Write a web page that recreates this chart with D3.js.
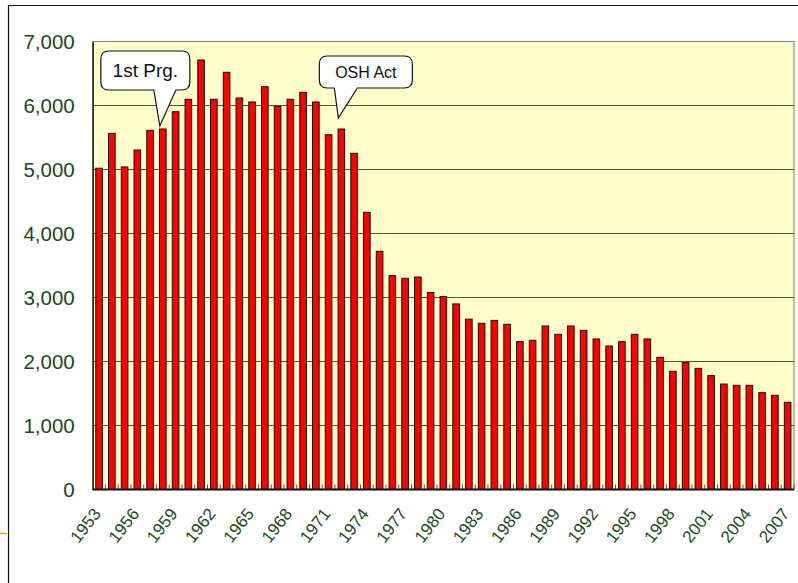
<!DOCTYPE html>
<html>
<head>
<meta charset="utf-8">
<script src="https://cdn.jsdelivr.net/npm/d3@7"></script>
<style>
  body { margin: 0; background: #fff; }
  svg { display: block; font-family: "Liberation Sans", Arial, sans-serif; }
</style>
</head>
<body>
<div id="chart"></div>
<script>
// Fatalities per year, 1953-2007

const years = d3.range(1953, 2008);

const deaths = [
  5020, 5565, 5040, 5305, 5612, 5633, 5903, 6097, 6711, 6097,
  6519, 6117, 6055, 6294, 5988, 6097, 6206, 6055, 5544, 5633,
  5253, 4331, 3722, 3341, 3300, 3320, 3078, 3015, 2900, 2662,
  2597, 2643, 2581, 2310, 2331, 2555, 2425, 2555, 2487, 2352,
  2242, 2310, 2425, 2352, 2065, 1847, 1982, 1893, 1779, 1648,
  1628, 1628, 1513, 1472, 1362
];

const tickYears = [1953, 1956, 1959, 1962, 1965, 1968, 1971, 1974, 1977, 1980,
  1983, 1986, 1989, 1992, 1995, 1998, 2001, 2004, 2007];

const yTicks = [0, 1000, 2000, 3000, 4000, 5000, 6000, 7000];

const notes = [
  { label: "1st Prg.", year: 1958 },
  { label: "OSH Act", year: 1972 }
];

let ChartWidth = 798;
let ChartHeight = 583;

let plotLeft = 92.7, plotRight = 794, plotTop = 41.5, plotBottom = 489.5;

let svg = d3.select("#chart")
    .append("svg")
    .attr("width", ChartWidth)
    .attr("height", ChartHeight)
;

let x = d3.scaleBand()
    .domain(years)
    .range([plotLeft, plotRight])
    .paddingInner(0.48)
    .paddingOuter(0.24)
;

let y = d3.scaleLinear()
    .domain([0, 7000])
    .range([plotBottom, plotTop])
;

// outer frame
svg.append("line")
    .attr("x1", 8).attr("x2", ChartWidth).attr("y1", 5.5).attr("y2", 5.5)
    .attr("stroke", "#111").attr("stroke-width", 1.2);
svg.append("line")
    .attr("x1", 8.5).attr("x2", 8.5).attr("y1", 5).attr("y2", ChartHeight)
    .attr("stroke", "#111").attr("stroke-width", 1.2);
svg.append("line")
    .attr("x1", 0).attr("x2", 7).attr("y1", 533.5).attr("y2", 533.5)
    .attr("stroke", "#d9a521").attr("stroke-width", 1.5);

// plot background
svg.append("rect")
    .attr("x", plotLeft).attr("y", plotTop)
    .attr("width", plotRight - plotLeft).attr("height", plotBottom - plotTop)
    .attr("fill", "#ffffcc")
    .attr("stroke", "#8c8c8c").attr("stroke-width", 1.2);

// gridlines
svg.append("g")
    .selectAll("line")
    .data(yTicks.filter(d => d > 0 && d < 7000))
    .enter()
    .append("line")
    .attr("x1", plotLeft).attr("x2", plotRight)
    .attr("y1", d => y(d)).attr("y2", d => y(d))
    .attr("stroke", "#3f5f27").attr("stroke-width", 1);

// y axis
let yAxis = svg.append("g")
    .attr("transform", `translate(${plotLeft},0)`)
    .call(d3.axisLeft(y).tickValues(yTicks).tickFormat(d3.format(",")).tickSize(0).tickPadding(18));
yAxis.select(".domain").attr("stroke", "#222").attr("stroke-width", 1.5);
yAxis.selectAll("text")
    .attr("fill", "#1b4a1b")
    .attr("font-size", 20.5)
    .attr("font-family", "Liberation Sans, Arial, sans-serif");

// bars
svg.append("g")
    .selectAll("rect")
    .data(deaths)
    .enter()
    .append("rect")
    .attr("x", (d, i) => x(years[i]))
    .attr("y", d => y(d))
    .attr("width", x.bandwidth())
    .attr("height", d => plotBottom - y(d))
    .attr("fill", "#ff0000")
    .attr("stroke", "#111")
    .attr("stroke-width", 1);

// x axis: small inside ticks at category edges
let edges = years.map(d => x(d) - x.step() * x.paddingInner() / 2).concat([plotRight]);
svg.append("g")
    .selectAll("line")
    .data(edges)
    .enter()
    .append("line")
    .attr("x1", d => d).attr("x2", d => d)
    .attr("y1", plotBottom).attr("y2", plotBottom - 5)
    .attr("stroke", "#555").attr("stroke-width", 1);
svg.append("line")
    .attr("x1", plotLeft).attr("x2", plotRight)
    .attr("y1", plotBottom).attr("y2", plotBottom)
    .attr("stroke", "#111").attr("stroke-width", 2);

svg.append("g")
    .selectAll("text")
    .data(tickYears)
    .enter()
    .append("text")
    .attr("transform", d => `translate(${x(d) + x.bandwidth() / 2 - 2},${plotBottom + 21}) rotate(-52)`)
    .attr("text-anchor", "end")
    .attr("dy", "0.35em")
    .attr("fill", "#1b4a1b")
    .attr("font-size", 17)
    .text(d => d);

// callouts
const noteLayout = [
  { dx0: -59, dx1: 30, dy0: -75, dy1: -36, b0: -6, b1: 16, lift: 3, size: 19 },
  { dx0: -19, dx1: 74, dy0: -62, dy1: -30, b0: -4, b1: 19, lift: 11, size: 16 }
];

function calloutPath(tx, ty, L) {
  let x0 = tx + L.dx0, x1 = tx + L.dx1, y0 = ty + L.dy0, y1 = ty + L.dy1, r = 8;
  return `M${x0 + r},${y0} H${x1 - r} Q${x1},${y0} ${x1},${y0 + r} V${y1 - r} Q${x1},${y1} ${x1 - r},${y1}`
    + ` H${tx + L.b1} L${tx},${ty} L${tx + L.b0},${y1} H${x0 + r} Q${x0},${y1} ${x0},${y1 - r}`
    + ` V${y0 + r} Q${x0},${y0} ${x0 + r},${y0} Z`;
}

notes.forEach((n, i) => {
  let L = noteLayout[i];
  let tx = x(n.year) + x.bandwidth() / 2 - 3;
  let ty = y(deaths[years.indexOf(n.year)]) - L.lift;
  svg.append("path")
      .attr("d", calloutPath(tx, ty, L))
      .attr("fill", "#fff")
      .attr("stroke", "#111")
      .attr("stroke-width", 1.2);
  svg.append("text")
      .attr("x", tx + (L.dx0 + L.dx1) / 2)
      .attr("y", ty + (L.dy0 + L.dy1) / 2)
      .attr("dy", "0.36em")
      .attr("text-anchor", "middle")
      .attr("font-size", L.size)
      .attr("fill", "#111")
      .text(n.label);
});
</script>
</body>
</html>
